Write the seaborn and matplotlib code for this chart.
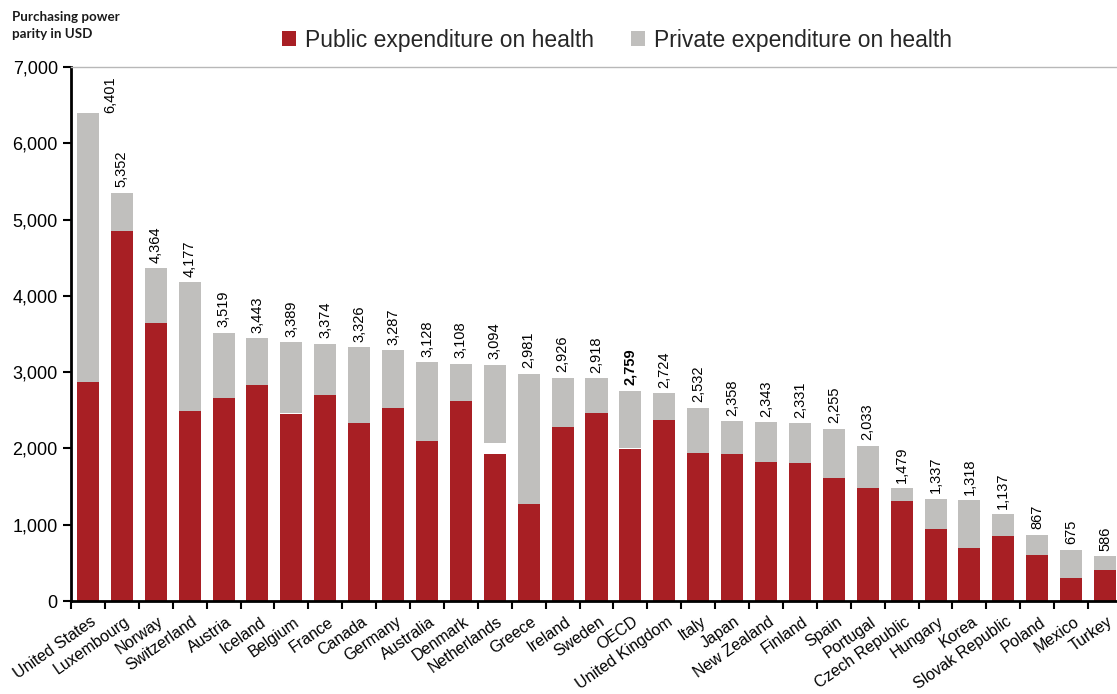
import numpy as np
import pandas as pd
import matplotlib
matplotlib.use("Agg")
import matplotlib.pyplot as plt
import matplotlib.transforms as mtransforms
from matplotlib.patches import Patch
from matplotlib.ticker import FuncFormatter, FixedLocator
import seaborn as sns

countries = ["United States", "Luxembourg", "Norway", "Switzerland", "Austria", "Iceland",
             "Belgium", "France", "Canada", "Germany", "Australia", "Denmark", "Netherlands",
             "Greece", "Ireland", "Sweden", "OECD", "United Kingdom", "Italy", "Japan",
             "New Zealand", "Finland", "Spain", "Portugal", "Czech Republic", "Hungary",
             "Korea", "Slovak Republic", "Poland", "Mexico", "Turkey"]
total = [6401, 5352, 4364, 4177, 3519, 3443, 3389, 3374, 3326, 3287, 3128, 3108, 3094,
         2981, 2926, 2918, 2759, 2724, 2532, 2358, 2343, 2331, 2255, 2033, 1479, 1337,
         1318, 1137, 867, 675, 586]
public = [2875, 4845, 3650, 2485, 2658, 2838, 2450, 2696, 2330, 2530, 2095, 2616, 1921,
          1275, 2278, 2463, 1993, 2370, 1935, 1921, 1822, 1805, 1610, 1480, 1316, 944,
          695, 847, 598, 308, 404]
# unallocated part shown as a white gap
gap = [0, 0, 0, 0, 0, 0, 15, 0, 0, 0, 0, 0, 155, 0, 0, 0, 15, 0, 0, 0, 0, 0, 0, 0, 0,
       0, 0, 0, 0, 0, 0]
yticks = [0, 1000, 2000, 3000, 4000, 5000, 6000, 7000]

RED = "#A81F24"
GREY = "#C0BFBD"

sns.set_style("white")
plt.rcParams["font.family"] = ["Liberation Sans", "DejaVu Sans"]

df = pd.DataFrame({"country": countries, "total": total, "public": public, "gap": gap})
df["pubgap"] = df["public"] + df["gap"]

W, H = 1117, 694
fig = plt.figure(figsize=(W / 100, H / 100), dpi=100)
ax = fig.add_axes([71 / W, (H - 601) / H, (1122 - 71) / W, 534 / H])

sns.barplot(data=df, x="country", y="total", color=GREY, saturation=1, width=0.65,
            ax=ax, linewidth=0, order=countries)
sns.barplot(data=df, x="country", y="pubgap", color="white", saturation=1, width=0.65,
            ax=ax, linewidth=0, order=countries)
sns.barplot(data=df, x="country", y="public", color=RED, saturation=1, width=0.65,
            ax=ax, linewidth=0, order=countries)

ax.set_xlim(-0.5, len(countries) - 0.5)
ax.set_ylim(0, 7000)
ax.set_xlabel("")
ax.set_ylabel("")

# y axis
ax.yaxis.set_major_locator(FixedLocator(yticks))
ax.yaxis.set_major_formatter(FuncFormatter(lambda v, p: f"{v:,.0f}"))
ax.tick_params(axis="y", which="major", direction="out", length=6, width=1.5,
               color="black", labelsize=13, labelcolor="black", pad=3.5, left=True)

# x axis: ticks at category boundaries, labels at centres
ax.set_xticks(np.arange(len(countries)))
ax.set_xticklabels(countries, rotation=35, ha="right", rotation_mode="anchor",
                   fontsize=11.5, color="black")
ax.tick_params(axis="x", which="major", length=0, pad=9.5)
ax.set_xticks(np.arange(len(countries) + 1) - 0.5, minor=True)
ax.tick_params(axis="x", which="minor", direction="out", length=6, width=1.5,
               color="black", bottom=True)
offset = mtransforms.ScaledTranslation(2 / 100, 0, fig.dpi_scale_trans)
for lab in ax.get_xticklabels():
    lab.set_transform(lab.get_transform() + offset)

for side in ["left", "bottom"]:
    ax.spines[side].set_visible(True)
    ax.spines[side].set_color("black")
    ax.spines[side].set_linewidth(2)
ax.spines["top"].set_visible(True)
ax.spines["top"].set_color("#B8B8B8")
ax.spines["top"].set_linewidth(1)
ax.spines["right"].set_visible(False)

# value labels
for i, (c, t) in enumerate(zip(countries, total)):
    weight = "bold" if c == "OECD" else "normal"
    if i == 0:
        ax.annotate(f"{t:,}", xy=(i, t), xytext=(16, 0), textcoords="offset points",
                    rotation=90, ha="center", va="bottom", fontsize=10.5,
                    fontweight=weight, color="black")
    else:
        ax.annotate(f"{t:,}", xy=(i, t), xytext=(0, 4), textcoords="offset points",
                    rotation=90, ha="center", va="bottom", fontsize=10.5,
                    fontweight=weight, color="black")

# legend
handles = [Patch(facecolor=RED, edgecolor="none", label="Public expenditure on health"),
           Patch(facecolor=GREY, edgecolor="none", label="Private expenditure on health")]
fig.legend(handles=handles, loc="center", bbox_to_anchor=(617 / W, 1 - 40 / H), ncol=2,
           frameon=False, fontsize=16.5, handlelength=0.6, handleheight=0.6,
           handletextpad=0.4, columnspacing=1.6)

fig.text(12 / W, 1 - 11 / H, "Purchasing power\nparity in USD", ha="left", va="top",
         fontsize=9.6, fontweight="bold", family=["Lato", "DejaVu Sans"], linespacing=1.45,
         color="#1a1a1a")

fig.savefig("out.png", dpi=100)
